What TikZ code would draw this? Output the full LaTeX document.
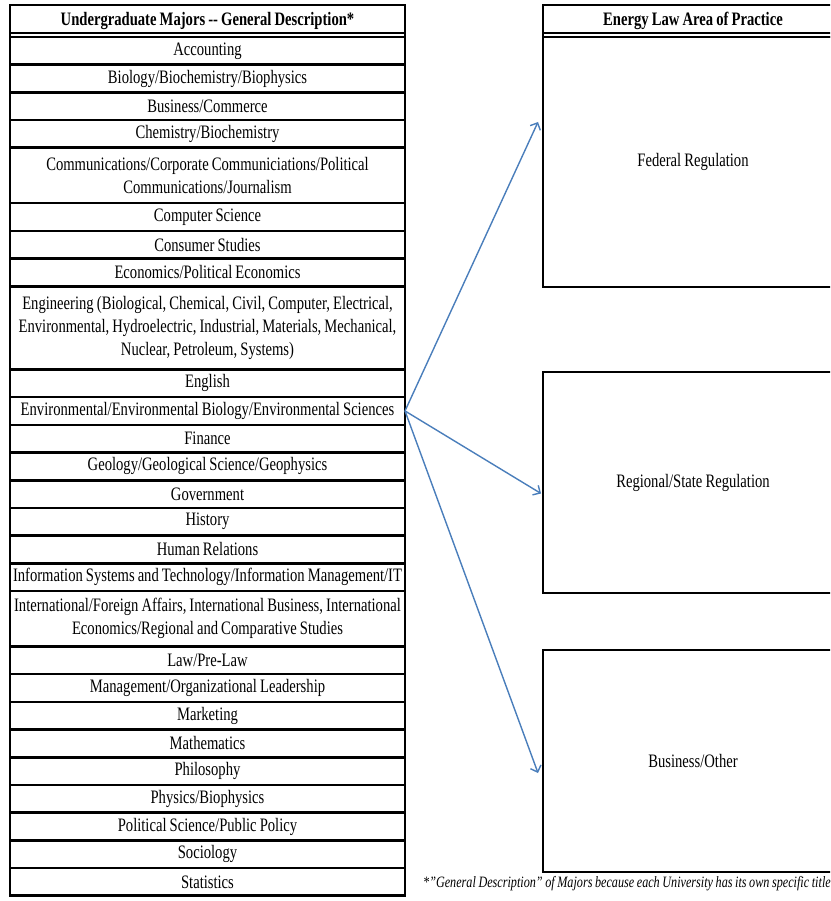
\documentclass[tikz,border=0pt]{standalone}
\usepackage{fontspec}
\setmainfont{Liberation Serif}[FakeStretch=0.77, WordSpace=0.85]
\usetikzlibrary{arrows.meta, positioning, calc}
\definecolor{linkblue}{HTML}{4A7EBB}
\hyphenpenalty=10000

\begin{document}
\begin{tikzpicture}[
        x=1pt, y=1pt,
        node distance=0pt,
        major/.style={rectangle, draw=black, line width=2.6pt, inner xsep=3pt, inner ysep=0pt, outer sep=0pt, text width=389pt, align=flush center, minimum height=27.7pt, font=\fontsize{19}{23}\selectfont},
        headbox/.style={major, minimum height=32pt, font=\fontsize{19}{23}\selectfont\bfseries},
        area/.style={rectangle, draw=black, line width=2.6pt, outer sep=0pt, minimum width=300pt, align=center, font=\fontsize{19}{23}\selectfont},
        areahead/.style={area, minimum height=32pt, font=\fontsize{19}{23}\selectfont\bfseries},
        arrow/.style={-{Straight Barb[scale=1.3]}, line width=1.4pt, linkblue}
    ]
    \path[use as bounding box, clip] (0,0) rectangle (830,-901);

    % majors table
    \node[headbox, anchor=north west] (majhead) at (10,-5) {Undergraduate Majors -{}- General Description*};
    \draw[line width=2.2pt] ([yshift=4pt]majhead.south west) -- ([yshift=4pt]majhead.south east);
    \node[major, below=of majhead] (acct) {Accounting};
    \node[major, below=of acct] (bio) {Biology/Biochemistry/Biophysics};
    \node[major, below=of bio] (bus) {Business/Commerce};
    \node[major, below=of bus] (chem) {Chemistry/Biochemistry};
    \node[major, below=of chem, minimum height=55.4pt] (comm) {Communications/Corporate Communiciations/Political\\Communications/Journalism};
    \node[major, below=of comm] (cs) {Computer Science};
    \node[major, below=of cs] (consumer) {Consumer Studies};
    \node[major, below=of consumer] (econ) {Economics/Political Economics};
    \node[major, below=of econ, minimum height=83.1pt] (eng) {Engineering (Biological, Chemical, Civil, Computer, Electrical,\\Environmental, Hydroelectric, Industrial, Materials, Mechanical,\\Nuclear, Petroleum, Systems)};
    \node[major, below=of eng] (english) {English};
    \node[major, below=of english] (env) {Environmental/Environmental Biology/Environmental Sciences};
    \node[major, below=of env] (fin) {Finance};
    \node[major, below=of fin] (geo) {Geology/Geological Science/Geophysics};
    \node[major, below=of geo] (gov) {Government};
    \node[major, below=of gov] (hist) {History};
    \node[major, below=of hist] (human) {Human Relations};
    \node[major, below=of human] (infosys) {Information Systems and Technology/Information Management/IT};
    \node[major, below=of infosys, minimum height=55.4pt] (intl) {International/Foreign Affairs, International Business, International\\Economics/Regional and Comparative Studies};
    \node[major, below=of intl] (law) {Law/Pre-Law};
    \node[major, below=of law] (mgmt) {Management/Organizational Leadership};
    \node[major, below=of mgmt] (mkt) {Marketing};
    \node[major, below=of mkt] (math) {Mathematics};
    \node[major, below=of math] (phil) {Philosophy};
    \node[major, below=of phil] (phys) {Physics/Biophysics};
    \node[major, below=of phys] (polisci) {Political Science/Public Policy};
    \node[major, below=of polisci] (soc) {Sociology};
    \node[major, below=of soc] (stats) {Statistics};

    % practice areas
    \node[areahead, anchor=north west] (areahead) at (543,-5) {Energy Law Area of Practice};
    \draw[line width=2.2pt] ([yshift=4pt]areahead.south west) -- ([yshift=4pt]areahead.south east);
    \node[area, below=of areahead, minimum height=250pt] (fed) {Federal Regulation};
    \node[area, below=85pt of fed, minimum height=221pt] (state) {Regional/State Regulation};
    \node[area, below=57pt of state, minimum height=222pt] (other) {Business/Other};

    \node[anchor=west, inner sep=0pt, font=\fontsize{15.8}{18}\selectfont\itshape] (note) at (423,-884) {*\char34 General Description\char34{} of Majors because each University has its own specific title};

    \draw[arrow] (env.east) -- ([xshift=-5pt, yshift=40pt]fed.west);
    \draw[arrow] (env.east) -- ([xshift=-2pt, yshift=-11pt]state.west);
    \draw[arrow] (env.east) -- ([xshift=-5pt, yshift=-12pt]other.west);

\end{tikzpicture}
\end{document}
